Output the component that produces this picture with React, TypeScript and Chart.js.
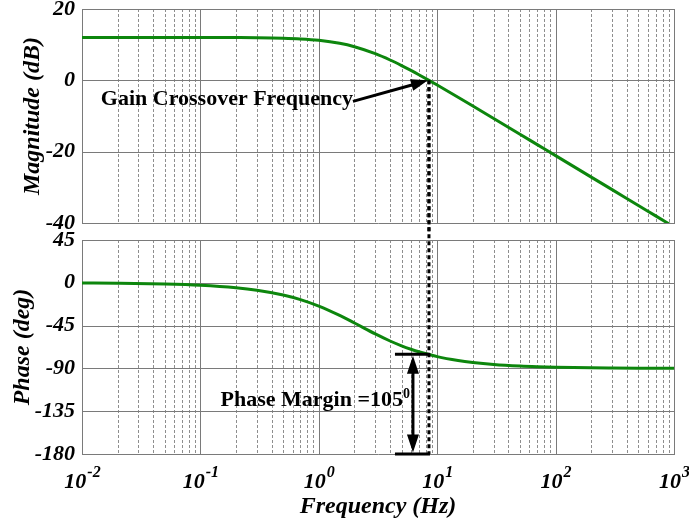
import React, { useEffect, useRef } from "react";
import { Chart, registerables } from "chart.js";

Chart.register(...registerables);

// Open-loop frequency response samples (Hz, dB, degrees)
const frequencies = [0.01, 0.02, 0.05, 0.1, 0.2, 0.3, 0.5, 0.7, 1, 1.5, 2, 3, 4, 5, 6, 7, 8.52, 10, 15, 20, 30, 50, 70, 100, 200, 300, 500, 700, 1000];
const magnitudeDb = [12.04, 12.04, 12.04, 12.03, 12.0, 11.96, 11.82, 11.62, 11.22, 10.38, 9.42, 7.48, 5.7, 4.14, 2.78, 1.58, 0.0, -1.32, -4.73, -7.19, -10.68, -15.1, -18.02, -21.11, -27.13, -30.65, -35.09, -38.01, -41.11];
const phaseDeg = [-0.26, -0.52, -1.3, -2.6, -5.19, -7.77, -12.8, -17.65, -24.44, -34.29, -42.27, -53.75, -61.19, -66.25, -69.86, -72.55, -75.3, -77.59, -81.66, -83.72, -85.81, -87.48, -88.2, -88.74, -89.37, -89.58, -89.75, -89.82, -89.87];

// Axes
const decades = [0.01, 0.1, 1, 10, 100, 1000];
const decadeExponents = ["-2", "-1", "0", "1", "2", "3"];
const minorSteps = [2, 3, 4, 5, 6, 7, 8, 9];
const magnitudeTicks = [-40, -20, 0, 20];
const phaseTicks = [-180, -135, -90, -45, 0, 45];

// Annotations
const crossoverFrequency = 8.52;
const crossoverGain = 0;
const phaseFloor = -180;
const phaseMarginDeg = 105;

const SERIF = "'Liberation Serif', 'Times New Roman', serif";
const GREEN = "#0d860d";
const MAJOR = "#7a7a7a";
const MINOR = "#8e8e8e";

Chart.defaults.font.family = SERIF;

const tickFont = { family: SERIF, size: 22, style: "italic" as const, weight: "bold" as const };
const titleFont = { family: SERIF, size: 24, style: "italic" as const, weight: "bold" as const };

function gridPlugin(yTicks: number[]) {
  return {
    id: "bodeGrid",
    beforeDatasetsDraw(chart: any) {
      const { ctx, chartArea: a, scales } = chart;
      const x = scales.x;
      const y = scales.y;
      ctx.save();
      ctx.lineWidth = 1;
      ctx.strokeStyle = MINOR;
      ctx.setLineDash([3, 2]);
      ctx.beginPath();
      decades.slice(0, -1).forEach((d) =>
        minorSteps.forEach((m) => {
          const px = Math.round(x.getPixelForValue(d * m)) + 0.5;
          ctx.moveTo(px, a.top);
          ctx.lineTo(px, a.bottom);
        })
      );
      ctx.stroke();
      ctx.setLineDash([]);
      ctx.strokeStyle = MAJOR;
      ctx.beginPath();
      decades.forEach((d) => {
        const px = Math.round(x.getPixelForValue(d)) + 0.5;
        ctx.moveTo(px, a.top);
        ctx.lineTo(px, a.bottom + 0.5);
      });
      yTicks.forEach((v) => {
        const py = Math.round(y.getPixelForValue(v)) + 0.5;
        ctx.moveTo(a.left, py);
        ctx.lineTo(a.right + 1, py);
      });
      ctx.stroke();
      ctx.restore();
    },
  };
}

function arrowHead(ctx: CanvasRenderingContext2D, tipX: number, tipY: number, fromX: number, fromY: number, len: number, half: number) {
  const ang = Math.atan2(tipY - fromY, tipX - fromX);
  const bx = tipX - len * Math.cos(ang);
  const by = tipY - len * Math.sin(ang);
  const nx = -Math.sin(ang) * half;
  const ny = Math.cos(ang) * half;
  ctx.beginPath();
  ctx.moveTo(tipX, tipY);
  ctx.lineTo(bx + nx, by + ny);
  ctx.lineTo(bx - nx, by - ny);
  ctx.closePath();
  ctx.fill();
}

function dottedDrop(ctx: CanvasRenderingContext2D, x: number, y0: number, y1: number) {
  ctx.save();
  ctx.strokeStyle = "#000";
  ctx.lineWidth = 3;
  ctx.setLineDash([4, 3]);
  ctx.beginPath();
  ctx.moveTo(x, y0);
  ctx.lineTo(x, y1);
  ctx.stroke();
  ctx.restore();
}

function yAxis(min: number, max: number, ticks: number[], title: string, titlePad: number) {
  return {
    type: "linear" as const,
    min,
    max,
    afterBuildTicks: (s: any) => {
      s.ticks = ticks.map((v) => ({ value: v }));
    },
    afterFit: (s: any) => {
      s.width = 82;
      s.paddingTop = 0;
      s.paddingBottom = 0;
    },
    grid: { display: false, drawTicks: false },
    border: { display: false },
    ticks: { padding: 7, color: "#000", autoSkip: false, font: tickFont },
    title: { display: true, text: title, color: "#000", font: titleFont, padding: { top: titlePad, bottom: 0 } },
  };
}

export default function App() {
  const topRef = useRef<HTMLCanvasElement>(null);
  const bottomRef = useRef<HTMLCanvasElement>(null);

  useEffect(() => {
    const magnitudePoints = frequencies.map((f, i) => ({ x: f, y: magnitudeDb[i] }));
    const phasePoints = frequencies.map((f, i) => ({ x: f, y: phaseDeg[i] }));

    const gainNote = {
      id: "gainNote",
      afterDraw(chart: any) {
        const { ctx, scales } = chart;
        const cx = scales.x.getPixelForValue(crossoverFrequency);
        const cy = scales.y.getPixelForValue(crossoverGain);
        dottedDrop(ctx, cx, cy, chart.height + 10);
        const tailX = cx - 76;
        const tailY = cy + 21;
        ctx.save();
        ctx.fillStyle = "#000";
        ctx.strokeStyle = "#000";
        ctx.font = `bold 22px ${SERIF}`;
        ctx.textAlign = "right";
        ctx.textBaseline = "alphabetic";
        ctx.fillText("Gain Crossover Frequency", tailX, cy + 25);
        ctx.lineWidth = 3;
        const ang = Math.atan2(cy - tailY, cx - tailX);
        ctx.beginPath();
        ctx.moveTo(tailX, tailY);
        ctx.lineTo(cx - 14 * Math.cos(ang), cy - 14 * Math.sin(ang));
        ctx.stroke();
        arrowHead(ctx, cx - 1, cy, tailX, tailY, 17, 6);
        ctx.restore();
      },
    };

    const top = new Chart(topRef.current!, {
      type: "line",
      data: {
        datasets: [
          { data: magnitudePoints, borderColor: GREEN, borderWidth: 3, pointRadius: 0, cubicInterpolationMode: "monotone", clip: 0 },
        ],
      },
      options: {
        responsive: false,
        animation: false,
        devicePixelRatio: 1,
        layout: { padding: { top: 9, right: 15, bottom: 0, left: 0 } },
        plugins: { legend: { display: false }, tooltip: { enabled: false } },
        scales: {
          x: {
            type: "logarithmic",
            min: 0.01,
            max: 1000,
            grid: { display: false, drawTicks: false },
            border: { display: false },
            ticks: { display: false },
            afterFit: (s: any) => {
              s.height = 9;
              s.paddingLeft = 0;
              s.paddingRight = 0;
            },
          },
          y: yAxis(-40, 20, magnitudeTicks, "Magnitude (dB)", 18),
        },
      } as any,
      plugins: [gridPlugin(magnitudeTicks), gainNote],
    });

    const phaseNote = {
      id: "phaseNote",
      afterDraw(chart: any) {
        const { ctx, scales } = chart;
        const x = scales.x;
        const y = scales.y;
        const cx = x.getPixelForValue(crossoverFrequency);
        const startY = top.scales.y.getPixelForValue(crossoverGain);
        const yBot = y.getPixelForValue(phaseFloor);
        const yTop = y.getPixelForValue(phaseFloor + phaseMarginDeg);
        dottedDrop(ctx, cx, startY, yBot);

        ctx.save();
        ctx.fillStyle = "#000";
        ctx.strokeStyle = "#000";
        ctx.lineWidth = 3;
        const barL = cx - 34;
        ctx.beginPath();
        ctx.moveTo(barL, yTop);
        ctx.lineTo(cx + 1, yTop);
        ctx.moveTo(barL, yBot);
        ctx.lineTo(cx + 1, yBot);
        const ax = cx - 16;
        ctx.moveTo(ax, yTop + 12);
        ctx.lineTo(ax, yBot - 12);
        ctx.stroke();
        arrowHead(ctx, ax, yTop + 1.5, ax, yBot, 18, 6);
        arrowHead(ctx, ax, yBot - 1.5, ax, yTop, 18, 6);

        const baseY = (yTop + yBot) / 2 + 2;
        ctx.font = `bold 14px ${SERIF}`;
        const supW = ctx.measureText("0").width;
        const supX = ax - 3 - supW;
        ctx.textBaseline = "alphabetic";
        ctx.textAlign = "left";
        ctx.fillText("0", supX, baseY - 8);
        ctx.font = `bold 22px ${SERIF}`;
        ctx.textAlign = "right";
        ctx.fillText(`Phase Margin =${phaseMarginDeg}`, supX, baseY);

        // decade tick labels with raised exponents
        const baseFont = `italic bold 22px ${SERIF}`;
        const expFont = `italic bold 16px ${SERIF}`;
        const labelY = chart.chartArea.bottom + 34;
        decades.forEach((d, i) => {
          const px = x.getPixelForValue(d);
          ctx.font = baseFont;
          const wb = ctx.measureText("10").width;
          ctx.font = expFont;
          const we = ctx.measureText(decadeExponents[i]).width;
          const left = px - (wb + we) / 2;
          ctx.textAlign = "left";
          ctx.font = baseFont;
          ctx.fillText("10", left, labelY);
          ctx.font = expFont;
          ctx.fillText(decadeExponents[i], left + wb + 1, labelY - 11);
        });
        ctx.restore();
      },
    };

    const bottom = new Chart(bottomRef.current!, {
      type: "line",
      data: {
        datasets: [
          { data: phasePoints, borderColor: GREEN, borderWidth: 3, pointRadius: 0, cubicInterpolationMode: "monotone", clip: 0 },
        ],
      },
      options: {
        responsive: false,
        animation: false,
        devicePixelRatio: 1,
        layout: { padding: { top: 240, right: 15, bottom: 0, left: 0 } },
        plugins: { legend: { display: false }, tooltip: { enabled: false } },
        scales: {
          x: {
            type: "logarithmic",
            min: 0.01,
            max: 1000,
            grid: { display: false, drawTicks: false },
            border: { display: false },
            ticks: { display: false },
            title: { display: true, text: "Frequency (Hz)", color: "#000", font: titleFont, padding: { top: 0, bottom: 6 } },
            afterFit: (s: any) => {
              s.height = 73;
              s.paddingLeft = 0;
              s.paddingRight = 0;
            },
          },
          y: yAxis(-180, 45, phaseTicks, "Phase (deg)", 8),
        },
      } as any,
      plugins: [gridPlugin(phaseTicks), phaseNote],
    });

    return () => {
      bottom.destroy();
      top.destroy();
    };
  }, []);

  return (
    <div style={{ position: "fixed", left: 0, top: 0, width: 689, height: 527, background: "#fff", overflow: "hidden" }}>
      <canvas ref={bottomRef} width={689} height={527} style={{ position: "absolute", left: 0, top: 0 }} />
      <canvas ref={topRef} width={689} height={232} style={{ position: "absolute", left: 0, top: 0 }} />
    </div>
  );
}
